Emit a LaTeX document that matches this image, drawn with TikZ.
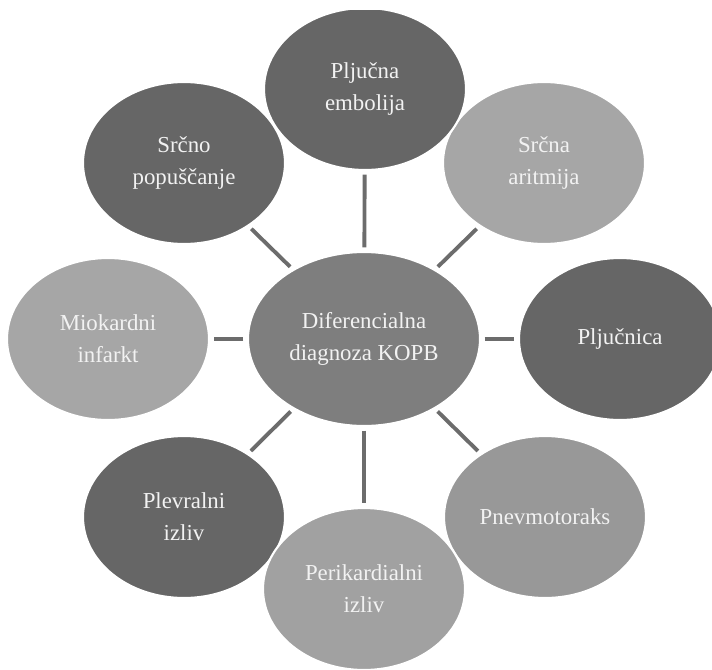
\documentclass[tikz,border=0pt]{standalone}
\usepackage{fontspec}
\setmainfont{Liberation Serif}
\usepackage{xcolor}
\usepackage{tikz}
\usetikzlibrary{shapes.geometric}

\definecolor{darkfill}{RGB}{102,102,102}
\definecolor{hubfill}{RGB}{126,126,126}
\definecolor{lightfill}{RGB}{166,166,166}
\definecolor{pneufill}{RGB}{152,152,152}
\definecolor{perifill}{RGB}{161,161,161}
\definecolor{linkgray}{RGB}{108,108,108}
\definecolor{labelwhite}{RGB}{242,242,242}

\begin{document}
\begin{tikzpicture}[
		bubble/.style={ellipse, draw=white, line width=1.2pt, inner sep=0pt,
			minimum width=4.04cm, minimum height=3.24cm, align=center,
			text=labelwhite, font=\fontsize{13}{18.2}\selectfont},
		hub/.style={bubble, minimum width=4.64cm, minimum height=3.48cm},
		link/.style={draw=linkgray, line width=2.2pt, shorten <=0.07cm, shorten >=0.07cm}
	]
		\useasboundingbox (0,0) rectangle (14.24,13.38);
		\clip (0,0) rectangle (14.24,13.18);
		
		% outer ring
		\node[bubble, fill=darkfill] (popu) at (3.68,10.12) {Srčno\\popuščanje};
		\node[bubble, fill=lightfill] (arit) at (10.88,10.12) {Srčna\\aritmija};
		\node[bubble, fill=darkfill] (emb) at (7.30,11.60) {Pljučna\\embolija};
		\node[bubble, fill=lightfill] (mio) at (2.16,6.60) {Miokardni\\infarkt};
		\node[bubble, fill=darkfill] (pljuc) at (12.40,6.60) {Pljučnica};
		\node[bubble, fill=darkfill] (plev) at (3.68,3.04) {Plevralni\\izliv};
		\node[bubble, fill=pneufill] (pneu) at (10.90,3.04) {Pnevmotoraks};
		\node[bubble, fill=perifill] (peri) at (7.28,1.60) {Perikardialni\\izliv};
		
		% centre
		\node[hub, fill=hubfill] (kopb) at (7.28,6.60) {Diferencialna\\diagnoza KOPB};
		
		\foreach \n in {emb,arit,pljuc,pneu,peri,plev,mio,popu}
			\draw[link] (kopb) -- (\n);
	\end{tikzpicture}
\end{document}
